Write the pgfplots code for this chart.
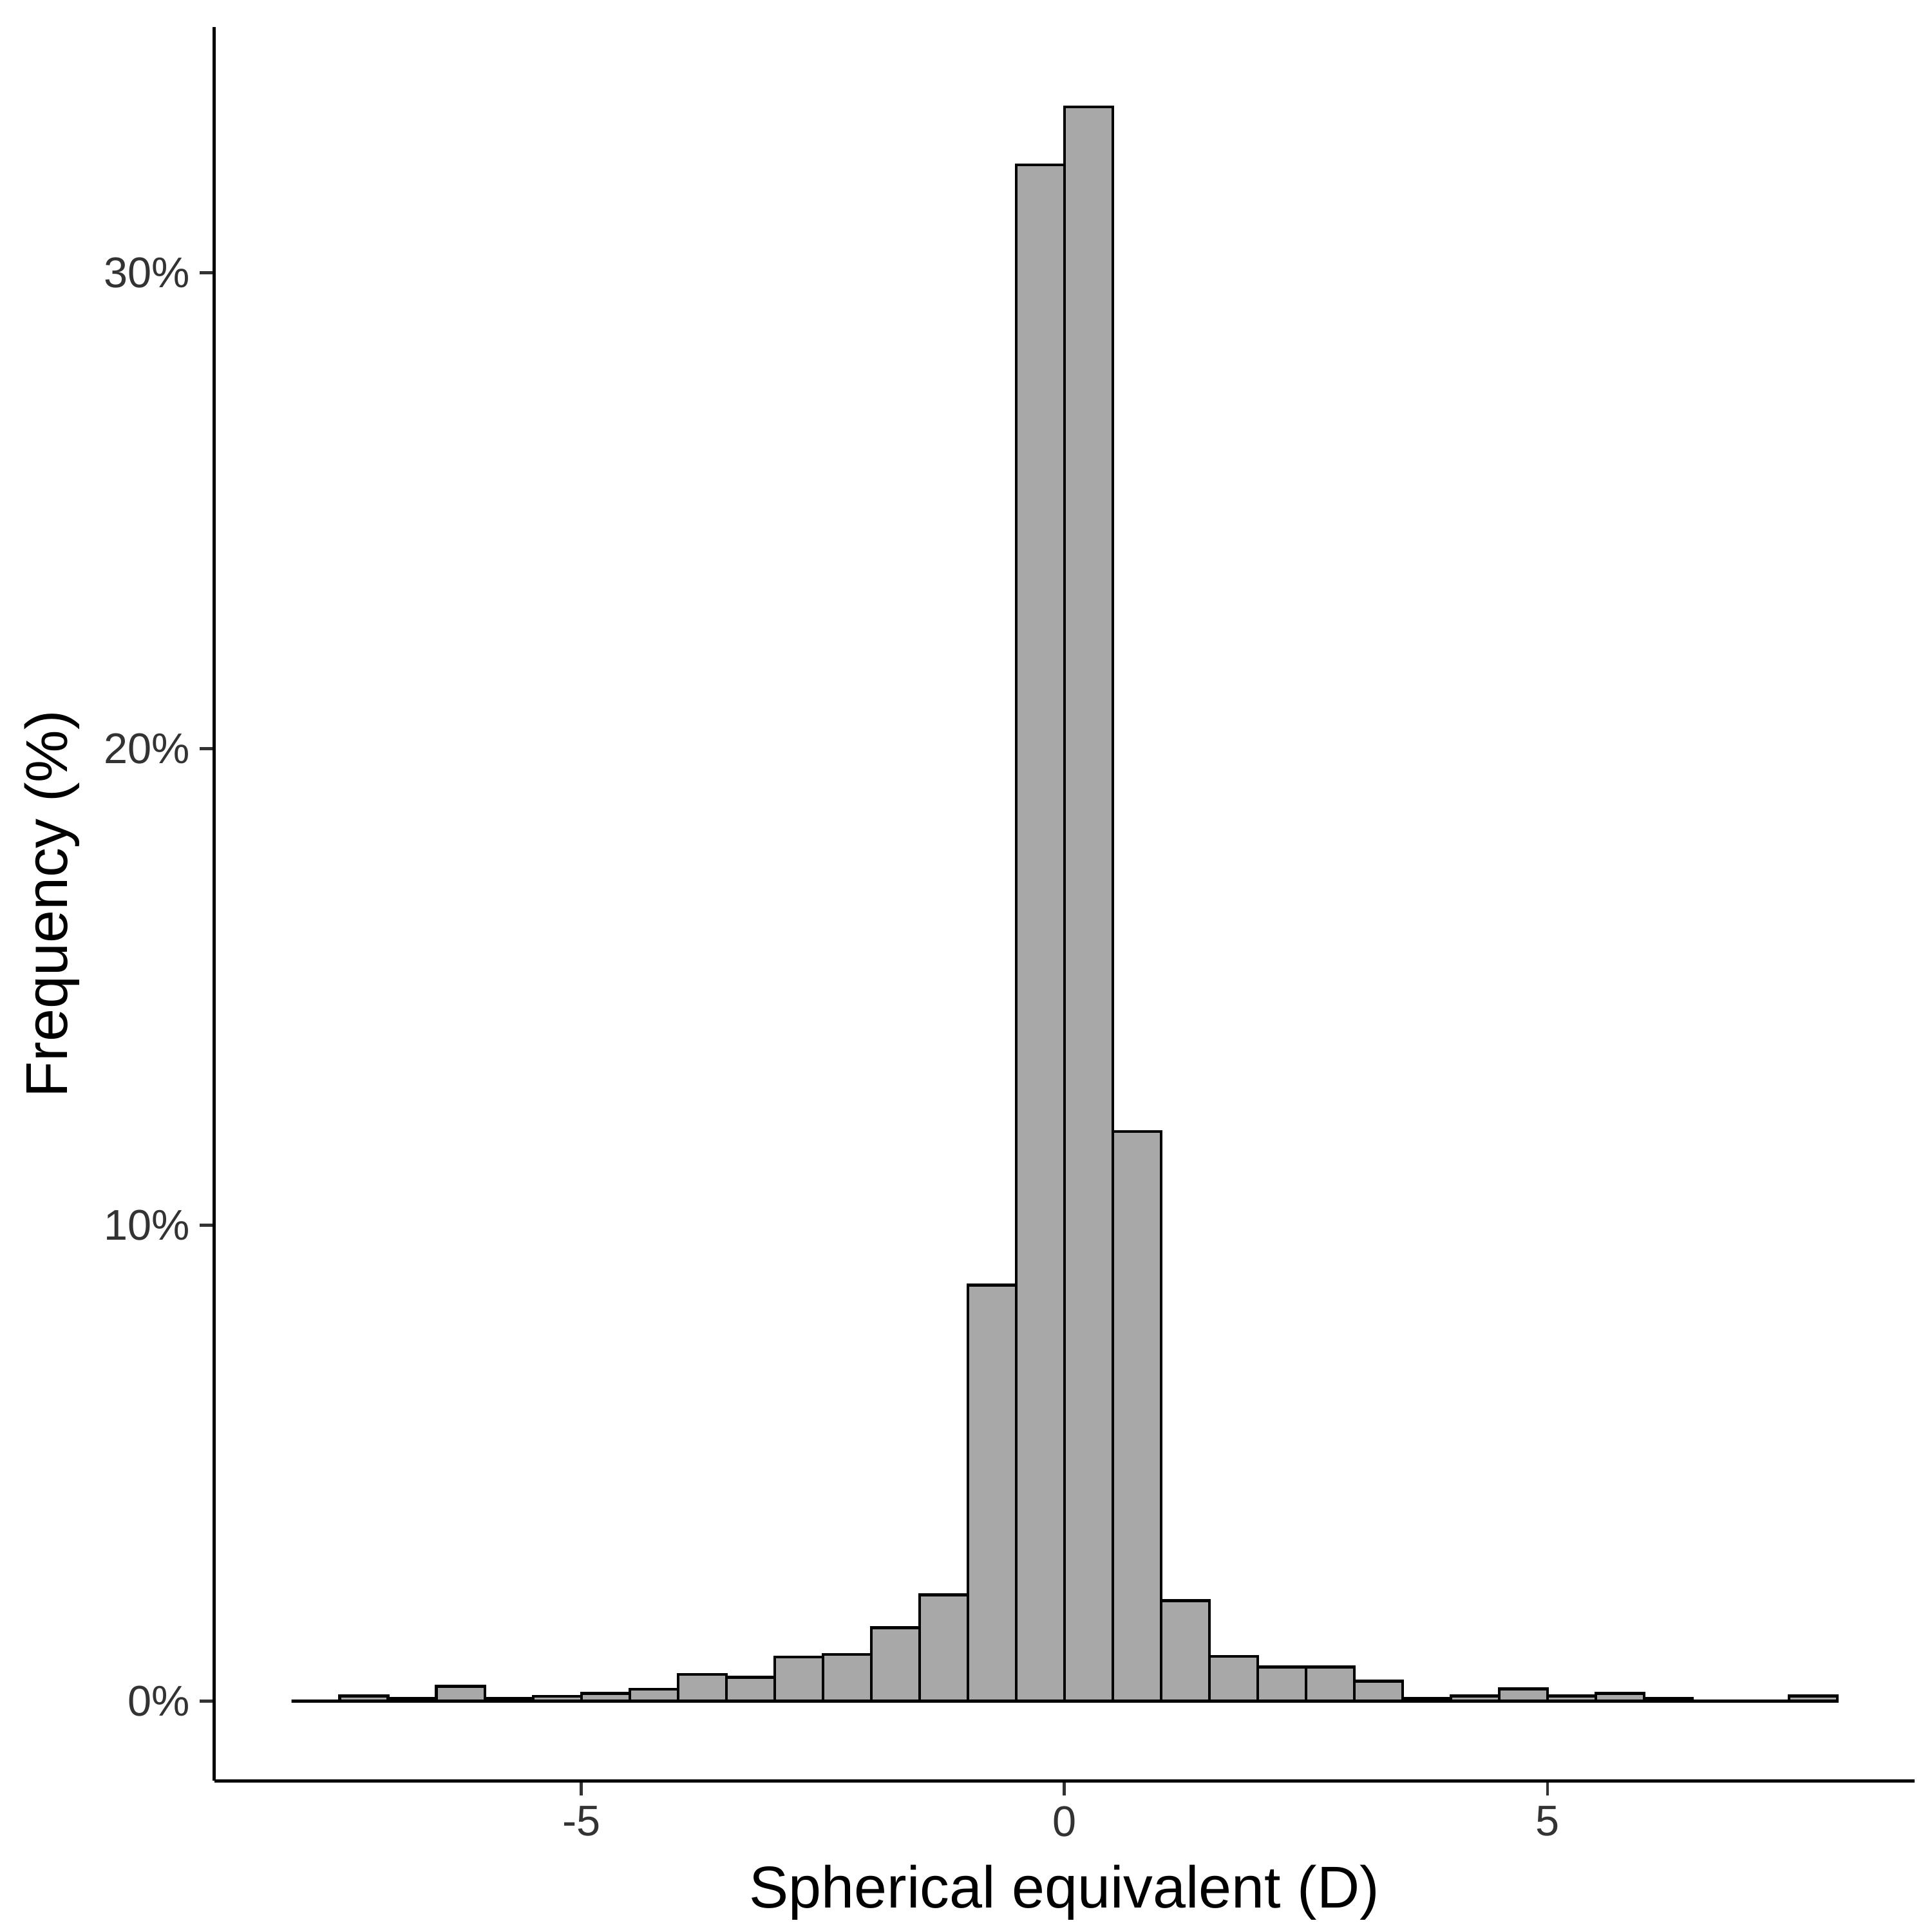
\documentclass[border=0pt]{standalone}
\usepackage{fontspec}
\setmainfont{Liberation Sans}
\usepackage{pgfplots}
\pgfplotsset{compat=1.18}
\definecolor{barfill}{HTML}{A8A8A8}
\definecolor{ticktxt}{HTML}{333333}
\begin{document}
\begin{tikzpicture}
\begin{axis}[
    scale only axis,
    width=411.9pt, height=424.8pt,
    xmin=-8.8, xmax=8.8,
    ymin=-1.674, ymax=35.154,
    axis lines*=left,
    axis line style={-, line width=0.75pt, black},
    tick align=outside,
    tick pos=left,
    major tick length=3.6pt,
    tick style={line width=0.75pt, color=ticktxt},
    xtick={-5,0,5},
    xticklabels={-5,0,5},
    ytick={0,10,20,30},
    yticklabels={0\%,10\%,20\%,30\%},
    tick label style={font=\fontsize{10.4}{12}\selectfont, text=ticktxt},
    yticklabel style={xshift=1.2pt},
    xticklabel style={yshift=1pt},
    xlabel={Spherical equivalent (D)},
    ylabel={Frequency (\%)},
    every axis x label/.style={at={(axis description cs:0.5,0)}, yshift=-27pt,
        anchor=center, inner sep=0pt, font=\fontsize{14.3}{17}\selectfont, text=black},
    every axis y label/.style={at={(axis description cs:0,0.5)}, xshift=-39.3pt,
        rotate=90, anchor=center, inner sep=0pt, font=\fontsize{14.3}{17}\selectfont, text=black},
    clip=false,
]
\addplot[ybar interval, fill=barfill, draw=black, line width=0.7pt] table {
x y
-8.0 0
-7.5 0.11
-7.0 0.054
-6.5 0.31
-6.0 0.054
-5.5 0.10
-5.0 0.16
-4.5 0.25
-4.0 0.56
-3.5 0.50
-3.0 0.93
-2.5 0.98
-2.0 1.54
-1.5 2.23
-1.0 8.74
-0.5 32.26
0.0 33.48
0.5 11.96
1.0 2.11
1.5 0.94
2.0 0.72
2.5 0.72
3.0 0.42
3.5 0.054
4.0 0.11
4.5 0.26
5.0 0.11
5.5 0.16
6.0 0.054
6.5 0
7.0 0
7.5 0.11
8.0 0
};
\end{axis}
% page margins as in the reference
\path (current axis.north east) ++(4.2pt,6.6pt);
\path (current axis.south west) ++(-51.9pt,-36.6pt);
\end{tikzpicture}
\end{document}
